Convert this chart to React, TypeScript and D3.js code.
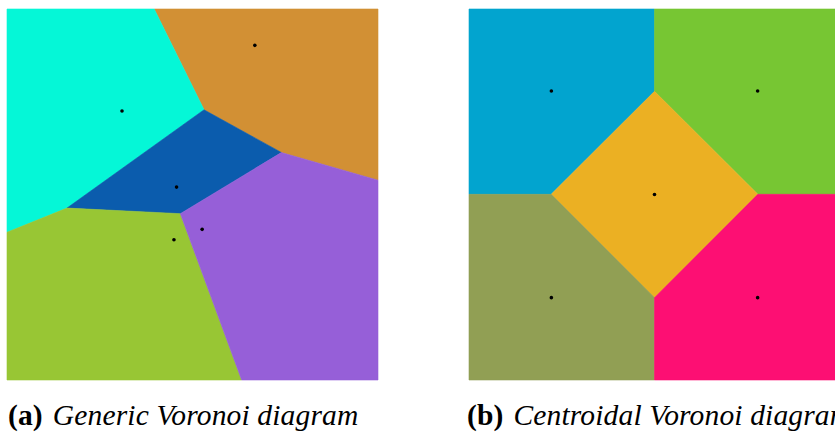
import React from "react";
import * as d3 from "d3";

const pointsA: [number, number][] = [
  [66.8, 9.8],
  [31.0, 27.5],
  [45.7, 48.0],
  [45.0, 62.2],
  [52.6, 59.4],
];
const colorsA = ["#D29034", "#05F7D7", "#0B5CAD", "#98C634", "#965FD8"];

const pointsB: [number, number][] = [
  [22.2, 22.1],
  [77.8, 22.1],
  [50.0, 50.0],
  [22.2, 77.8],
  [77.8, 77.8],
];
const colorsB = ["#02A4CF", "#77C633", "#EBB023", "#919F54", "#FD0F73"];

const captionA = { label: "(a)", text: "Generic Voronoi diagram" };
const captionB = { label: "(b)", text: "Centroidal Voronoi diagram" };

function Panel({ pts, colors, x0, y0, size }: { pts: [number, number][]; colors: string[]; x0: number; y0: number; size: number }) {
  const xs = d3.scaleLinear().domain([0, 100]).range([x0, x0 + size]);
  const ys = d3.scaleLinear().domain([0, 100]).range([y0, y0 + size]);
  const px = pts.map(([a, b]) => [xs(a), ys(b)] as [number, number]);
  const vor = d3.Delaunay.from(px).voronoi([x0, y0, x0 + size, y0 + size]);
  return (
    <g>
      {px.map((_, i) => (
        <path key={i} d={vor.renderCell(i)} fill={colors[i]} stroke={colors[i]} strokeWidth={0.6} />
      ))}
      {px.map((p, i) => (
        <circle key={"c" + i} cx={p[0]} cy={p[1]} r={1.8} fill="#000" />
      ))}
    </g>
  );
}

export default function App() {
  const size = 371;
  const font = "'Liberation Serif', 'DejaVu Serif', serif";
  const fs = 29.5;
  return (
    <svg width={835} height={435} style={{ position: "absolute", left: 0, top: 0 }}>
      <rect width={835} height={435} fill="#fff" />
      <Panel pts={pointsA} colors={colorsA} x0={7} y0={9} size={size} />
      <Panel pts={pointsB} colors={colorsB} x0={469} y0={9} size={size} />
      <text x={8} y={425} fontFamily={font} fontSize={fs} letterSpacing={0.15} fill="#000">
        <tspan fontWeight="bold">{captionA.label}</tspan>
        <tspan fontStyle="italic" dx={10}>{captionA.text}</tspan>
      </text>
      <text x={467} y={425} fontFamily={font} fontSize={fs} letterSpacing={0.15} fill="#000">
        <tspan fontWeight="bold">{captionB.label}</tspan>
        <tspan fontStyle="italic" dx={10}>{captionB.text}</tspan>
      </text>
    </svg>
  );
}
